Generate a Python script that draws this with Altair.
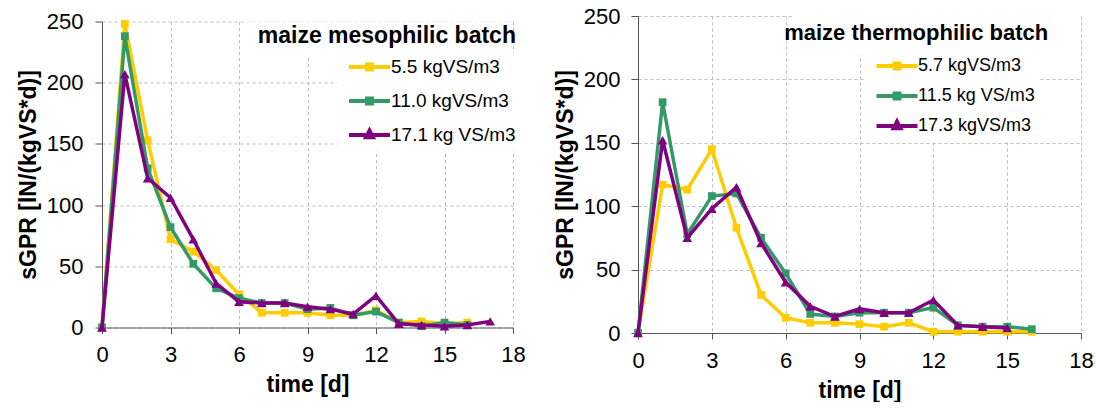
import altair as alt
import pandas as pd

FONT = "Liberation Sans"

# ---------------- data ----------------
meso_labels = ["5.5 kgVS/m3", "11.0 kgVS/m3", "17.1 kg VS/m3"]
meso_55 = [0, 248, 153, 72, 62, 47, 27, 12, 12, 12, 10, 10, 14, 4, 5, 3, 4]
meso_110 = [0, 238, 130, 82, 52, 32, 24, 20, 20, 15, 16, 10, 13, 4, 1, 4, 2]
meso_171 = [0, 207, 122, 106, 72, 36, 21, 20, 20, 17, 15, 11, 26, 3, 2, 1, 2, 5]

thermo_labels = ["5.7 kgVS/m3", "11.5 kg VS/m3", "17.3 kgVS/m3"]
thermo_57 = [0, 117, 113, 145, 83, 30, 12, 8, 8, 7, 5, 8, 1, 1, 1, 1, 1]
thermo_115 = [0, 182, 78, 108, 110, 75, 47, 15, 13, 16, 16, 16, 20, 6, 5, 5, 3]
thermo_173 = [0, 152, 75, 98, 115, 71, 40, 21, 13, 19, 16, 16, 26, 6, 5, 4]

x_ticks = [0, 3, 6, 9, 12, 15, 18]
y_ticks = [0, 50, 100, 150, 200, 250]

COLORS = ["#FFCC00", "#339966", "#800080"]
MARKERS = ["square", "square", "triangle"]

# legend symbol: line with marker (custom paths, unit = sqrt(size)/2 px)
LINE_SQ = "M-0.625,0H9.625M3.875,-0.625H5.125V0.625H3.875Z"
LINE_TRI = "M-0.625,0H9.625M4.5,-1.1L5.35,0.55H3.65Z"


def panel(labels, series, title, width, height, title_pos, box_pos,
          legend_pos, row_pad, title_size, label_size, y_label_pad):
    rows = []
    for lab, vals in zip(labels, series):
        for d, v in enumerate(vals):
            rows.append({"day": d, "value": v, "series": lab})
    df = pd.DataFrame(rows)

    xs = alt.Scale(domain=[0, 18], nice=False, zero=False)
    ys = alt.Scale(domain=[0, 250], nice=False)
    xax = alt.Axis(values=x_ticks, title="time [d]", grid=True, tickSize=6,
                   labelPadding=11, titlePadding=8, labelFlush=False)
    yax = alt.Axis(values=y_ticks, title="sGPR [lN/(kgVS*d)]", grid=True,
                   tickSize=7, labelPadding=y_label_pad, titlePadding=6)

    def X(**kw):
        return alt.X(scale=xs, axis=xax, **kw)

    def Y(**kw):
        return alt.Y(scale=ys, axis=yax, **kw)

    layers = []
    # white box behind title (covers grid like the Excel title box)
    tdf = pd.DataFrame({"t": [title]})
    layers.append(
        alt.Chart(tdf).mark_rect(fill="white").encode(
            x=X(datum=box_pos[0]), x2=alt.datum(18),
            y=Y(datum=250), y2=alt.datum(box_pos[1]))
    )
    for lab, col, mk in zip(labels, COLORS, MARKERS):
        sub = alt.Chart(df).transform_filter(alt.datum.series == lab)
        layers.append(sub.mark_line(color=col, strokeWidth=3.5).encode(
            x=X(field="day", type="quantitative"),
            y=Y(field="value", type="quantitative")))
        if mk == "square":
            m = sub.mark_square(color=col, size=60, opacity=1)
        else:
            m = sub.mark_point(shape="triangle-up", filled=True, color=col,
                               size=95, opacity=1)
        layers.append(m.encode(x=X(field="day", type="quantitative"),
                               y=Y(field="value", type="quantitative")))

    leg = alt.Legend(title=None, orient="none", legendX=legend_pos[0],
                     legendY=legend_pos[1], fillColor="white", padding=5,
                     labelFont=FONT, labelFontSize=label_size,
                     labelColor="black", labelOffset=30, labelLimit=400,
                     symbolSize=64, symbolStrokeWidth=4, symbolOpacity=1,
                     rowPadding=row_pad, clipHeight=label_size)
    carrier = alt.Chart(df).mark_point(filled=False, opacity=0, size=1,
                                       strokeWidth=4).encode(
        x=X(field="day", type="quantitative"),
        y=Y(field="value", type="quantitative"),
        color=alt.Color("series:N", scale=alt.Scale(domain=labels, range=COLORS),
                        legend=leg),
        shape=alt.Shape("series:N",
                        scale=alt.Scale(domain=labels,
                                        range=[LINE_SQ, LINE_SQ, LINE_TRI]),
                        legend=leg),
    )
    layers.append(carrier)
    layers.append(
        alt.Chart(tdf).mark_text(align="right", baseline="middle", font=FONT,
                                 fontSize=title_size, fontWeight="bold",
                                 color="black").encode(
            x=X(datum=title_pos[0]), y=Y(datum=title_pos[1]), text="t:N")
    )
    return alt.layer(*layers).properties(width=width, height=height)


left = panel(meso_labels, [meso_55, meso_110, meso_171],
             "maize mesophilic batch", 411, 306,
             title_pos=(18.13, 238.5), box_pos=(6.3, 220.6),
             legend_pos=(235, 31), row_pad=14, title_size=23, label_size=19,
             y_label_pad=12)
right = panel(thermo_labels, [thermo_57, thermo_115, thermo_173],
              "maize thermophilic batch", 443, 317,
              title_pos=(16.67, 236.6), box_pos=(6.26, 219),
              legend_pos=(227, 36), row_pad=12, title_size=22, label_size=18,
              y_label_pad=11)

chart = alt.hconcat(left, right, spacing=28, center=True).resolve_scale(
    x="independent", y="independent", color="independent", shape="independent"
).resolve_legend(color="independent", shape="independent").configure(
    padding={"left": 17, "top": 5, "right": 0, "bottom": 0},
    background="white",
).configure_view(stroke=None).configure_axis(
    labelFont=FONT, labelFontSize=22, labelColor="black",
    titleFont=FONT, titleFontSize=23, titleFontWeight="bold", titleColor="black",
    domainColor="#555555", tickColor="#555555", domainWidth=1, tickWidth=1,
    gridColor="#BBBBBB", gridDash=[3, 3], gridWidth=1,
)

chart.save("out.html", embed_options={"renderer": "svg", "actions": False})
